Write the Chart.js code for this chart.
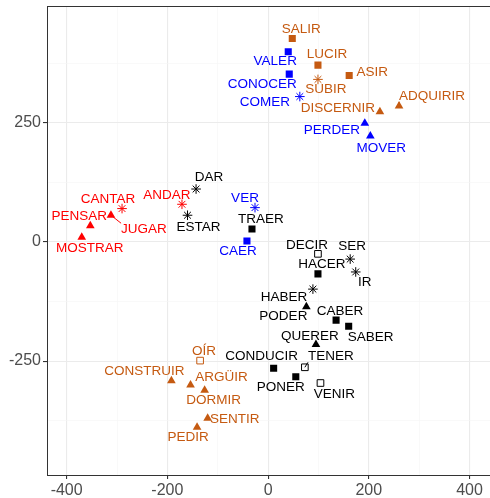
<!DOCTYPE html>
<html>
<head>
<meta charset="utf-8">
<script src="https://cdn.jsdelivr.net/npm/chart.js@4"></script>
<style>
  html, body { margin: 0; padding: 0; background: #fff; overflow: hidden; }
  #wrap { position: relative; width: 496px; height: 498px; }
</style>
</head>
<body>
<div id="wrap"><canvas id="verbChart"></canvas></div>
<script>
// verbs and their coordinates
const verbs = [
  'SALIR', 'LUCIR', 'ASIR', 'SUBIR', 'DISCERNIR', 'ADQUIRIR', 'OÍR', 'CONSTRUIR', 'ARGÜIR', 'DORMIR', 'SENTIR', 'PEDIR',
  'VALER', 'CONOCER', 'COMER', 'PERDER', 'MOVER', 'VER', 'CAER',
  'CANTAR', 'ANDAR', 'JUGAR', 'PENSAR', 'MOSTRAR',
  'DAR', 'ESTAR', 'TRAER', 'DECIR', 'SER', 'HACER', 'IR', 'HABER', 'PODER', 'CABER', 'SABER', 'QUERER', 'TENER', 'CONDUCIR', 'PONER', 'VENIR'
];
const xVals = [
  48, 99, 161, 99, 222, 260, -135, -192, -154, -126, -120, -141,
  40, 42, 63, 192, 203, -26, -42,
  -290, -171, -312, -353, -370,
  -143, -160, -32, 99, 163, 99, 174, 89, 76, 135, 160, 95, 73, 11, 55, 104
];
const yVals = [
  427, 371, 349, 341, 273, 285, -249, -291, -300, -311, -370, -389,
  399, 352, 305, 249, 222, 72, 2,
  70, 79, 56, 34, 10,
  111, 56, 27, -25, -36, -67, -63, -99, -136, -164, -177, -215, -263, -265, -283, -296
];
const verbClass = [
  'ir', 'ir', 'ir', 'ir', 'ir', 'ir', 'ir', 'ir', 'ir', 'ir', 'ir', 'ir',
  'er', 'er', 'er', 'er', 'er', 'er', 'er',
  'ar', 'ar', 'ar', 'ar', 'ar',
  'irreg', 'irreg', 'irreg', 'irreg', 'irreg', 'irreg', 'irreg', 'irreg', 'irreg', 'irreg', 'irreg', 'irreg', 'irreg', 'irreg', 'irreg', 'irreg'
];
const markerType = [
  'square', 'square', 'square', 'asterisk', 'triangle', 'triangle', 'open', 'triangle', 'triangle', 'triangle', 'triangle', 'triangle',
  'square', 'square', 'asterisk', 'triangle', 'triangle', 'asterisk', 'square',
  'asterisk', 'asterisk', 'triangle', 'triangle', 'triangle',
  'asterisk', 'asterisk', 'square', 'open', 'asterisk', 'square', 'asterisk', 'asterisk', 'triangle', 'square', 'square', 'triangle', 'open', 'square', 'square', 'open'
];
const xTickValues = [-400, -200, 0, 200, 400];
const yTickValues = [-250, 0, 250];

// label placement (pixel offsets from the point, repel-style)
const labelOffsets = {
  SALIR: [9, -9], LUCIR: [9, -11], ASIR: [23, -3], SUBIR: [8, 10], DISCERNIR: [-42, -4],
  ADQUIRIR: [33, -10], 'OÍR': [4, -9], CONSTRUIR: [-27, -9], 'ARGÜIR': [31, -8], DORMIR: [9, 10],
  SENTIR: [27, 1], PEDIR: [-9, 10], VALER: [-13, 10], CONOCER: [-27, 10], COMER: [-35, 6],
  PERDER: [-33, 7], MOVER: [11, 12], VER: [-10, -9], CAER: [-9, 10], CANTAR: [-14, -9],
  ANDAR: [-15, -9], JUGAR: [33, 14], PENSAR: [-11, -9], MOSTRAR: [8, 11], DAR: [13, -12],
  ESTAR: [11, 12], TRAER: [9, -10], DECIR: [-11, -9], SER: [2, -13], HACER: [4, -10],
  IR: [9, 10], HABER: [-29, 8], PODER: [-23, 10], CABER: [4, -9], SABER: [22, 11],
  QUERER: [-6, -8], TENER: [26, -11], CONDUCIR: [-12, -12], PONER: [-15, 10], VENIR: [14, 11]
};
const segmentLabels = ['ADQUIRIR', 'JUGAR', 'TENER', 'CONSTRUIR'];

const classColors = { ar: '#FF0000', er: '#0000FF', ir: '#C55A11', irreg: '#000000' };
const markerStyles = {
  square: { style: 'rect', radius: 5, fill: true, width: 0 },
  open: { style: 'rect', radius: 4.7, fill: false, width: 1 },
  triangle: { style: 'triangle', radius: 5, fill: true, width: 0 },
  asterisk: { style: 'star', radius: 4.8, fill: false, width: 1 }
};

const labelFont = '13.5px "Liberation Sans", Arial, sans-serif';

const gridValues = (majors, lo, hi) => {
  const step = majors[1] - majors[0];
  const vals = [];
  for (let v = majors[0] - step / 2; v <= majors[majors.length - 1] + step / 2; v += step / 2) {
    if (v >= lo && v <= hi) vals.push(v);
  }
  return vals;
};

const X_MIN = -439, X_MAX = 441, Y_MIN = -489, Y_MAX = 495;

const panelBorder = {
  id: 'panelBorder',
  afterDatasetsDraw(chart) {
    const { ctx, chartArea: a } = chart;
    ctx.save();
    ctx.strokeStyle = '#333333';
    ctx.lineWidth = 1;
    ctx.strokeRect(a.left + 0.5, a.top + 0.5, a.right - a.left, a.bottom - a.top);
    ctx.restore();
  }
};

const pointLabels = {
  id: 'pointLabels',
  afterDatasetsDraw(chart) {
    const { ctx } = chart;
    const meta = chart.getDatasetMeta(0);
    ctx.save();
    ctx.font = labelFont;
    ctx.textAlign = 'center';
    ctx.textBaseline = 'middle';
    meta.data.forEach((el, i) => {
      const name = verbs[i];
      const color = classColors[verbClass[i]];
      const [dx, dy] = labelOffsets[name] || [0, -10];
      const lx = el.x + dx, ly = el.y + dy;
      if (segmentLabels.includes(name)) {
        const w = ctx.measureText(name).width;
        const left = lx - w / 2, right = lx + w / 2, top = ly - 6, bottom = ly + 6;
        const ex = Math.min(Math.max(el.x, left), right);
        const ey = Math.min(Math.max(el.y, top), bottom);
        ctx.strokeStyle = color;
        ctx.lineWidth = 1;
        ctx.beginPath();
        ctx.moveTo(el.x, el.y);
        ctx.lineTo(ex, ey);
        ctx.stroke();
      }
      ctx.fillStyle = color;
      ctx.fillText(name, lx, ly);
    });
    ctx.restore();
  }
};

const axisGrid = (majors) => ({
  color: c => majors.includes(c.tick.value) ? '#EBEBEB' : '#F5F5F5',
  lineWidth: c => majors.includes(c.tick.value) ? 1.1 : 0.6,
  tickColor: c => majors.includes(c.tick.value) ? '#333333' : 'rgba(0,0,0,0)',
  tickLength: 4,
  drawTicks: true
});

const tickStyle = (majors) => ({
  autoSkip: false,
  maxRotation: 0,
  color: '#4D4D4D',
  padding: 2,
  font: { family: 'Liberation Sans', size: 16 },
  callback: v => majors.includes(v) ? String(v) : ''
});

const ctx = document.getElementById('verbChart').getContext('2d');
new Chart(ctx, {
  type: 'scatter',
  data: {
    datasets: [{
      data: verbs.map((v, i) => ({ x: xVals[i], y: yVals[i] })),
      pointStyle: markerType.map(m => markerStyles[m].style),
      pointRadius: markerType.map(m => markerStyles[m].radius),
      backgroundColor: verbClass.map((c, i) => markerStyles[markerType[i]].fill ? classColors[c] : 'rgba(0,0,0,0)'),
      borderColor: verbClass.map(c => classColors[c]),
      borderWidth: markerType.map(m => markerStyles[m].width)
    }]
  },
  options: {
    responsive: true,
    maintainAspectRatio: false,
    animation: false,
    layout: { padding: { top: 6, right: 0, bottom: 0, left: 0 } },
    plugins: {
      legend: { display: false },
      tooltip: { enabled: false }
    },
    scales: {
      x: {
        type: 'linear',
        min: X_MIN,
        max: X_MAX,
        afterBuildTicks: s => { s.ticks = gridValues(xTickValues, X_MIN, X_MAX).map(v => ({ value: v })); },
        afterFit: s => { s.height = 23; s.paddingLeft = 0; s.paddingRight = 0; },
        border: { display: false },
        grid: axisGrid(xTickValues),
        ticks: tickStyle(xTickValues)
      },
      y: {
        type: 'linear',
        min: Y_MIN,
        max: Y_MAX,
        afterBuildTicks: s => { s.ticks = gridValues(yTickValues, Y_MIN, Y_MAX).map(v => ({ value: v })); },
        afterFit: s => { s.width = 47; s.paddingTop = 0; s.paddingBottom = 0; },
        border: { display: false },
        grid: axisGrid(yTickValues),
        ticks: tickStyle(yTickValues)
      }
    }
  },
  plugins: [panelBorder, pointLabels]
});
</script>
</body>
</html>
